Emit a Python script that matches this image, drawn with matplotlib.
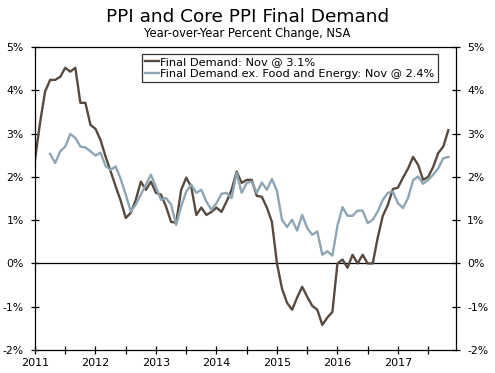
import numpy as np
import matplotlib
matplotlib.use("Agg")
import matplotlib.pyplot as plt

plt.rcParams["font.family"] = "DejaVu Sans"
plt.rcParams["axes.unicode_minus"] = False

# monthly YoY % change, Jan 2011 - Nov 2017
final_demand = [
    2.39, 3.25, 3.97, 4.24, 4.24, 4.31, 4.52, 4.43, 4.52, 3.71, 3.71, 3.20,
    3.11, 2.85, 2.47, 2.13, 1.78, 1.45, 1.05, 1.17, 1.47, 1.89, 1.70, 1.89,
    1.63, 1.59, 1.31, 0.96, 0.94, 1.70, 1.98, 1.77, 1.12, 1.29, 1.12, 1.19,
    1.29, 1.19, 1.43, 1.70, 2.12, 1.86, 1.93, 1.93, 1.56, 1.54, 1.29, 0.96,
    0.00, -0.58, -0.91, -1.07, -0.79, -0.54, -0.77, -0.98, -1.07, -1.42, -1.25, -1.12,
    0.00, 0.09, -0.10, 0.20, 0.00, 0.20, 0.00, 0.00, 0.60, 1.10, 1.35, 1.72,
    1.75, 1.98, 2.19, 2.46, 2.28, 1.93, 2.00, 2.23, 2.55, 2.70, 3.08,
]
# core series starts Apr 2011
core = [
    2.53, 2.32, 2.59, 2.70, 2.99, 2.90, 2.70, 2.68, 2.59,
    2.49, 2.56, 2.25, 2.16, 2.24, 1.95, 1.59, 1.20, 1.36, 1.59, 1.82, 2.05,
    1.76, 1.47, 1.51, 1.36, 0.89, 1.32, 1.66, 1.82, 1.63, 1.70, 1.43, 1.24,
    1.39, 1.61, 1.63, 1.51, 2.09, 1.63, 1.86, 1.89, 1.63, 1.87, 1.70, 1.95,
    1.68, 1.01, 0.84, 1.01, 0.76, 1.12, 0.82, 0.66, 0.74, 0.20, 0.28, 0.18,
    0.87, 1.30, 1.10, 1.10, 1.22, 1.22, 0.93, 1.01, 1.20, 1.47, 1.63, 1.66,
    1.39, 1.28, 1.51, 1.92, 2.01, 1.84, 1.93, 2.05, 2.20, 2.43, 2.46,
]
years = [2011, 2012, 2013, 2014, 2015, 2016, 2017]
y_ticks = [-2, -1, 0, 1, 2, 3, 4, 5]

x_fd = 2011 + np.arange(len(final_demand)) / 12
x_core = 2011 + (3 + np.arange(len(core))) / 12

dark = "#574a40"
blue = "#8ea6b4"

fig = plt.figure(figsize=(4.95, 3.73), dpi=100)
ax = fig.add_axes([35 / 495, 1 - 350 / 373, 421 / 495, 303 / 373])

ax.plot(x_fd, final_demand, color=dark, lw=1.7,
        label="Final Demand: Nov @ 3.1%")
ax.plot(x_core, core, color=blue, lw=1.7,
        label="Final Demand ex. Food and Energy: Nov @ 2.4%")
ax.axhline(0, color="black", lw=0.9, zorder=1)

ax.set_xlim(2011, 2017.96)
ax.set_ylim(-2, 5)
ax.set_xticks(years)
ax.set_xticklabels([str(y) for y in years], fontsize=8)
ax.set_xticks([y + 0.5 for y in years], minor=True)
ax.set_yticks(y_ticks)
ax.set_yticklabels([f"{v}%" for v in y_ticks], fontsize=7.8)
ax.tick_params(axis="both", which="both", direction="inout", length=6,
               width=0.9, labelright=True, right=True)
ax.tick_params(axis="y", pad=5)
ax.tick_params(axis="x", pad=3)
for s in ax.spines.values():
    s.set_linewidth(0.9)

leg = ax.legend(loc="upper left", bbox_to_anchor=(0.254, 0.978), fontsize=8.2,
                frameon=True, fancybox=False, edgecolor="black",
                handlelength=1.2, handletextpad=0.1, borderpad=0.3,
                labelspacing=0.15, borderaxespad=0)
leg.get_frame().set_linewidth(0.9)

fig.text(0.5, 1 - 17 / 373, "PPI and Core PPI Final Demand", ha="center",
         va="center", fontsize=13.3)
fig.text(0.5, 1 - 34 / 373, "Year-over-Year Percent Change, NSA",
         ha="center", va="center", fontsize=8.3)

fig.savefig("out.png", dpi=100)
